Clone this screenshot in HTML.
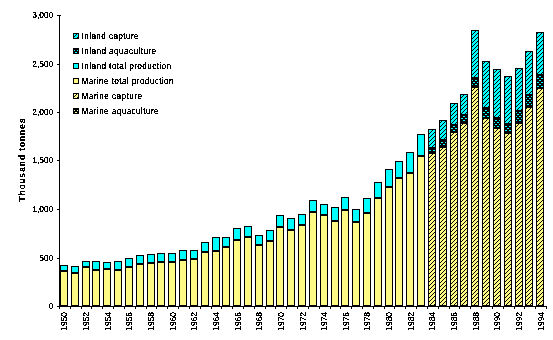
<!DOCTYPE html>
<html><head><meta charset="utf-8"><style>
html,body{margin:0;padding:0;background:#fff;width:553px;height:340px;overflow:hidden}
svg{display:block;will-change:transform}
.t{font-family:"Liberation Sans",sans-serif;font-size:8.4px;fill:#000}
.lg{font-family:"Liberation Sans",sans-serif;font-size:8.2px;fill:#000}
.ti{font-family:"Liberation Sans",sans-serif;font-size:8.3px;font-weight:bold;fill:#000}
</style></head><body>
<svg width="553" height="340" viewBox="0 0 553 340" shape-rendering="crispEdges">
<defs>
<filter id="th" x="0" y="0" width="553" height="340" filterUnits="userSpaceOnUse" color-interpolation-filters="sRGB"><feComponentTransfer><feFuncA type="discrete" tableValues="0 1 1"/></feComponentTransfer></filter>
<pattern id="hc" width="4" height="4" patternUnits="userSpaceOnUse">
<rect width="4" height="4" fill="#00FFFF"/><rect x="0" y="2" width="1" height="1" fill="#000"/><rect x="1" y="1" width="1" height="1" fill="#000"/><rect x="2" y="0" width="1" height="1" fill="#000"/><rect x="3" y="3" width="1" height="1" fill="#000"/>
</pattern>
<pattern id="hy" width="4" height="4" patternUnits="userSpaceOnUse">
<rect width="4" height="4" fill="#FFFA84"/><rect x="0" y="2" width="1" height="1" fill="#000"/><rect x="1" y="1" width="1" height="1" fill="#000"/><rect x="2" y="0" width="1" height="1" fill="#000"/><rect x="3" y="3" width="1" height="1" fill="#000"/>
</pattern>
<pattern id="dc" width="4" height="4" patternUnits="userSpaceOnUse">
<rect width="4" height="4" fill="#000"/><rect x="3" y="0" width="2" height="1" fill="#00FFFF"/><rect x="0" y="0" width="1" height="1" fill="#00FFFF"/><rect x="1" y="2" width="2" height="1" fill="#00FFFF"/>
</pattern>
<pattern id="dy" width="4" height="4" patternUnits="userSpaceOnUse">
<rect width="4" height="4" fill="#000"/><rect x="3" y="0" width="2" height="1" fill="#FFFA84"/><rect x="0" y="0" width="1" height="1" fill="#FFFA84"/><rect x="1" y="2" width="2" height="1" fill="#FFFA84"/>
</pattern>
</defs>
<rect x="60" y="265" width="8" height="41" fill="#000"/>
<rect x="61" y="266" width="6" height="4" fill="#00FFFF"/>
<rect x="61" y="272" width="6" height="33" fill="#FFFA84"/>
<rect x="71" y="266" width="8" height="40" fill="#000"/>
<rect x="72" y="267" width="6" height="5" fill="#00FFFF"/>
<rect x="72" y="274" width="6" height="31" fill="#FFFA84"/>
<rect x="82" y="261" width="8" height="45" fill="#000"/>
<rect x="83" y="262" width="6" height="4" fill="#00FFFF"/>
<rect x="83" y="268" width="6" height="37" fill="#FFFA84"/>
<rect x="92" y="261" width="8" height="45" fill="#000"/>
<rect x="93" y="262" width="6" height="7" fill="#00FFFF"/>
<rect x="93" y="271" width="6" height="34" fill="#FFFA84"/>
<rect x="103" y="262" width="8" height="44" fill="#000"/>
<rect x="104" y="263" width="6" height="5" fill="#00FFFF"/>
<rect x="104" y="270" width="6" height="35" fill="#FFFA84"/>
<rect x="114" y="261" width="8" height="45" fill="#000"/>
<rect x="115" y="262" width="6" height="7" fill="#00FFFF"/>
<rect x="115" y="271" width="6" height="34" fill="#FFFA84"/>
<rect x="125" y="258" width="8" height="48" fill="#000"/>
<rect x="126" y="259" width="6" height="7" fill="#00FFFF"/>
<rect x="126" y="268" width="6" height="37" fill="#FFFA84"/>
<rect x="136" y="255" width="8" height="51" fill="#000"/>
<rect x="137" y="256" width="6" height="7" fill="#00FFFF"/>
<rect x="137" y="265" width="6" height="40" fill="#FFFA84"/>
<rect x="147" y="254" width="8" height="52" fill="#000"/>
<rect x="148" y="255" width="6" height="7" fill="#00FFFF"/>
<rect x="148" y="264" width="6" height="41" fill="#FFFA84"/>
<rect x="157" y="253" width="8" height="53" fill="#000"/>
<rect x="158" y="254" width="6" height="7" fill="#00FFFF"/>
<rect x="158" y="263" width="6" height="42" fill="#FFFA84"/>
<rect x="168" y="253" width="8" height="53" fill="#000"/>
<rect x="169" y="254" width="6" height="7" fill="#00FFFF"/>
<rect x="169" y="263" width="6" height="42" fill="#FFFA84"/>
<rect x="179" y="250" width="8" height="56" fill="#000"/>
<rect x="180" y="251" width="6" height="8" fill="#00FFFF"/>
<rect x="180" y="261" width="6" height="44" fill="#FFFA84"/>
<rect x="190" y="250" width="8" height="56" fill="#000"/>
<rect x="191" y="251" width="6" height="7" fill="#00FFFF"/>
<rect x="191" y="260" width="6" height="45" fill="#FFFA84"/>
<rect x="201" y="242" width="8" height="64" fill="#000"/>
<rect x="202" y="243" width="6" height="8" fill="#00FFFF"/>
<rect x="202" y="253" width="6" height="52" fill="#FFFA84"/>
<rect x="212" y="237" width="8" height="69" fill="#000"/>
<rect x="213" y="238" width="6" height="12" fill="#00FFFF"/>
<rect x="213" y="252" width="6" height="53" fill="#FFFA84"/>
<rect x="222" y="237" width="8" height="69" fill="#000"/>
<rect x="223" y="238" width="6" height="8" fill="#00FFFF"/>
<rect x="223" y="248" width="6" height="57" fill="#FFFA84"/>
<rect x="233" y="228" width="8" height="78" fill="#000"/>
<rect x="234" y="229" width="6" height="10" fill="#00FFFF"/>
<rect x="234" y="241" width="6" height="64" fill="#FFFA84"/>
<rect x="244" y="226" width="8" height="80" fill="#000"/>
<rect x="245" y="227" width="6" height="9" fill="#00FFFF"/>
<rect x="245" y="238" width="6" height="67" fill="#FFFA84"/>
<rect x="255" y="235" width="8" height="71" fill="#000"/>
<rect x="256" y="236" width="6" height="8" fill="#00FFFF"/>
<rect x="256" y="246" width="6" height="59" fill="#FFFA84"/>
<rect x="266" y="230" width="8" height="76" fill="#000"/>
<rect x="267" y="231" width="6" height="9" fill="#00FFFF"/>
<rect x="267" y="242" width="6" height="63" fill="#FFFA84"/>
<rect x="276" y="215" width="8" height="91" fill="#000"/>
<rect x="277" y="216" width="6" height="10" fill="#00FFFF"/>
<rect x="277" y="228" width="6" height="77" fill="#FFFA84"/>
<rect x="287" y="218" width="8" height="88" fill="#000"/>
<rect x="288" y="219" width="6" height="10" fill="#00FFFF"/>
<rect x="288" y="231" width="6" height="74" fill="#FFFA84"/>
<rect x="298" y="214" width="8" height="92" fill="#000"/>
<rect x="299" y="215" width="6" height="9" fill="#00FFFF"/>
<rect x="299" y="226" width="6" height="79" fill="#FFFA84"/>
<rect x="309" y="200" width="8" height="106" fill="#000"/>
<rect x="310" y="201" width="6" height="10" fill="#00FFFF"/>
<rect x="310" y="213" width="6" height="92" fill="#FFFA84"/>
<rect x="320" y="204" width="8" height="102" fill="#000"/>
<rect x="321" y="205" width="6" height="9" fill="#00FFFF"/>
<rect x="321" y="216" width="6" height="89" fill="#FFFA84"/>
<rect x="331" y="207" width="8" height="99" fill="#000"/>
<rect x="332" y="208" width="6" height="12" fill="#00FFFF"/>
<rect x="332" y="222" width="6" height="83" fill="#FFFA84"/>
<rect x="341" y="197" width="8" height="109" fill="#000"/>
<rect x="342" y="198" width="6" height="11" fill="#00FFFF"/>
<rect x="342" y="211" width="6" height="94" fill="#FFFA84"/>
<rect x="352" y="209" width="8" height="97" fill="#000"/>
<rect x="353" y="210" width="6" height="11" fill="#00FFFF"/>
<rect x="353" y="223" width="6" height="82" fill="#FFFA84"/>
<rect x="363" y="198" width="8" height="108" fill="#000"/>
<rect x="364" y="199" width="6" height="13" fill="#00FFFF"/>
<rect x="364" y="214" width="6" height="91" fill="#FFFA84"/>
<rect x="374" y="182" width="8" height="124" fill="#000"/>
<rect x="375" y="183" width="6" height="14" fill="#00FFFF"/>
<rect x="375" y="199" width="6" height="106" fill="#FFFA84"/>
<rect x="385" y="169" width="8" height="137" fill="#000"/>
<rect x="386" y="170" width="6" height="16" fill="#00FFFF"/>
<rect x="386" y="188" width="6" height="117" fill="#FFFA84"/>
<rect x="395" y="161" width="8" height="145" fill="#000"/>
<rect x="396" y="162" width="6" height="15" fill="#00FFFF"/>
<rect x="396" y="179" width="6" height="126" fill="#FFFA84"/>
<rect x="406" y="152" width="8" height="154" fill="#000"/>
<rect x="407" y="153" width="6" height="19" fill="#00FFFF"/>
<rect x="407" y="174" width="6" height="131" fill="#FFFA84"/>
<rect x="417" y="134" width="8" height="172" fill="#000"/>
<rect x="418" y="135" width="6" height="20" fill="#00FFFF"/>
<rect x="418" y="157" width="6" height="148" fill="#FFFA84"/>
<rect x="428" y="129" width="8" height="177" fill="#000"/>
<rect x="429" y="130" width="6" height="17" fill="url(#hc)"/>
<rect x="429" y="149" width="6" height="3" fill="url(#dc)"/>
<rect x="429" y="154" width="6" height="151" fill="url(#hy)"/>
<rect x="439" y="120" width="8" height="186" fill="#000"/>
<rect x="440" y="121" width="6" height="18" fill="url(#hc)"/>
<rect x="440" y="141" width="6" height="5" fill="url(#dc)"/>
<rect x="440" y="148" width="6" height="157" fill="url(#hy)"/>
<rect x="450" y="103" width="8" height="203" fill="#000"/>
<rect x="451" y="104" width="6" height="20" fill="url(#hc)"/>
<rect x="451" y="126" width="6" height="5" fill="url(#dc)"/>
<rect x="451" y="133" width="6" height="172" fill="url(#hy)"/>
<rect x="460" y="94" width="8" height="212" fill="#000"/>
<rect x="461" y="95" width="6" height="19" fill="url(#hc)"/>
<rect x="461" y="116" width="6" height="6" fill="url(#dc)"/>
<rect x="461" y="124" width="6" height="181" fill="url(#hy)"/>
<rect x="471" y="30" width="8" height="276" fill="#000"/>
<rect x="472" y="31" width="6" height="46" fill="url(#hc)"/>
<rect x="472" y="79" width="6" height="7" fill="url(#dc)"/>
<rect x="472" y="88" width="6" height="217" fill="url(#hy)"/>
<rect x="482" y="61" width="8" height="245" fill="#000"/>
<rect x="483" y="62" width="6" height="45" fill="url(#hc)"/>
<rect x="483" y="109" width="6" height="8" fill="url(#dc)"/>
<rect x="483" y="119" width="6" height="186" fill="url(#hy)"/>
<rect x="493" y="69" width="8" height="237" fill="#000"/>
<rect x="494" y="70" width="6" height="47" fill="url(#hc)"/>
<rect x="494" y="119" width="6" height="8" fill="url(#dc)"/>
<rect x="494" y="129" width="6" height="176" fill="url(#hy)"/>
<rect x="504" y="76" width="8" height="230" fill="#000"/>
<rect x="505" y="77" width="6" height="46" fill="url(#hc)"/>
<rect x="505" y="125" width="6" height="7" fill="url(#dc)"/>
<rect x="505" y="134" width="6" height="171" fill="url(#hy)"/>
<rect x="515" y="68" width="8" height="238" fill="#000"/>
<rect x="516" y="69" width="6" height="41" fill="url(#hc)"/>
<rect x="516" y="112" width="6" height="10" fill="url(#dc)"/>
<rect x="516" y="124" width="6" height="181" fill="url(#hy)"/>
<rect x="525" y="51" width="8" height="255" fill="#000"/>
<rect x="526" y="52" width="6" height="42" fill="url(#hc)"/>
<rect x="526" y="96" width="6" height="10" fill="url(#dc)"/>
<rect x="526" y="108" width="6" height="197" fill="url(#hy)"/>
<rect x="536" y="32" width="8" height="274" fill="#000"/>
<rect x="537" y="33" width="6" height="41" fill="url(#hc)"/>
<rect x="537" y="76" width="6" height="11" fill="url(#dc)"/>
<rect x="537" y="89" width="6" height="216" fill="url(#hy)"/>
<rect x="59" y="15" width="1" height="292" fill="#000"/>
<rect x="59" y="306" width="488" height="1" fill="#000"/>
<rect x="57" y="306" width="2" height="1" fill="#000"/>
<rect x="57" y="258" width="2" height="1" fill="#000"/>
<rect x="57" y="209" width="2" height="1" fill="#000"/>
<rect x="57" y="160" width="2" height="1" fill="#000"/>
<rect x="57" y="112" width="2" height="1" fill="#000"/>
<rect x="57" y="64" width="2" height="1" fill="#000"/>
<rect x="57" y="15" width="2" height="1" fill="#000"/>
<rect x="59" y="307" width="1" height="2" fill="#000"/>
<rect x="70" y="307" width="1" height="2" fill="#000"/>
<rect x="81" y="307" width="1" height="2" fill="#000"/>
<rect x="91" y="307" width="1" height="2" fill="#000"/>
<rect x="102" y="307" width="1" height="2" fill="#000"/>
<rect x="113" y="307" width="1" height="2" fill="#000"/>
<rect x="124" y="307" width="1" height="2" fill="#000"/>
<rect x="135" y="307" width="1" height="2" fill="#000"/>
<rect x="146" y="307" width="1" height="2" fill="#000"/>
<rect x="156" y="307" width="1" height="2" fill="#000"/>
<rect x="167" y="307" width="1" height="2" fill="#000"/>
<rect x="178" y="307" width="1" height="2" fill="#000"/>
<rect x="189" y="307" width="1" height="2" fill="#000"/>
<rect x="200" y="307" width="1" height="2" fill="#000"/>
<rect x="211" y="307" width="1" height="2" fill="#000"/>
<rect x="221" y="307" width="1" height="2" fill="#000"/>
<rect x="232" y="307" width="1" height="2" fill="#000"/>
<rect x="243" y="307" width="1" height="2" fill="#000"/>
<rect x="254" y="307" width="1" height="2" fill="#000"/>
<rect x="265" y="307" width="1" height="2" fill="#000"/>
<rect x="275" y="307" width="1" height="2" fill="#000"/>
<rect x="286" y="307" width="1" height="2" fill="#000"/>
<rect x="297" y="307" width="1" height="2" fill="#000"/>
<rect x="308" y="307" width="1" height="2" fill="#000"/>
<rect x="319" y="307" width="1" height="2" fill="#000"/>
<rect x="330" y="307" width="1" height="2" fill="#000"/>
<rect x="340" y="307" width="1" height="2" fill="#000"/>
<rect x="351" y="307" width="1" height="2" fill="#000"/>
<rect x="362" y="307" width="1" height="2" fill="#000"/>
<rect x="373" y="307" width="1" height="2" fill="#000"/>
<rect x="384" y="307" width="1" height="2" fill="#000"/>
<rect x="394" y="307" width="1" height="2" fill="#000"/>
<rect x="405" y="307" width="1" height="2" fill="#000"/>
<rect x="416" y="307" width="1" height="2" fill="#000"/>
<rect x="427" y="307" width="1" height="2" fill="#000"/>
<rect x="438" y="307" width="1" height="2" fill="#000"/>
<rect x="449" y="307" width="1" height="2" fill="#000"/>
<rect x="459" y="307" width="1" height="2" fill="#000"/>
<rect x="470" y="307" width="1" height="2" fill="#000"/>
<rect x="481" y="307" width="1" height="2" fill="#000"/>
<rect x="492" y="307" width="1" height="2" fill="#000"/>
<rect x="503" y="307" width="1" height="2" fill="#000"/>
<rect x="514" y="307" width="1" height="2" fill="#000"/>
<rect x="524" y="307" width="1" height="2" fill="#000"/>
<rect x="535" y="307" width="1" height="2" fill="#000"/>
<rect x="546" y="307" width="1" height="2" fill="#000"/>
<rect x="57" y="15" width="4" height="1" fill="#000"/>
<rect x="73" y="33" width="6" height="6" fill="#000"/><rect x="74" y="34" width="4" height="4" fill="url(#hc)"/>
<rect x="73" y="48" width="6" height="6" fill="#000"/><rect x="74" y="49" width="4" height="4" fill="url(#dc)"/>
<rect x="73" y="63" width="6" height="6" fill="#000"/><rect x="74" y="64" width="4" height="4" fill="#00FFFF"/>
<rect x="73" y="78" width="6" height="6" fill="#000"/><rect x="74" y="79" width="4" height="4" fill="#FFFA84"/>
<rect x="73" y="93" width="6" height="6" fill="#000"/><rect x="74" y="94" width="4" height="4" fill="url(#hy)"/>
<rect x="73" y="108" width="6" height="6" fill="#000"/><rect x="74" y="109" width="4" height="4" fill="url(#dy)"/>
<g filter="url(#th)">
<text x="53.3" y="309" text-anchor="end" class="t">0</text>
<text x="53.3" y="261" text-anchor="end" class="t">500</text>
<text x="53.3" y="212" text-anchor="end" class="t">1,000</text>
<text x="53.3" y="163" text-anchor="end" class="t">1,500</text>
<text x="53.3" y="115" text-anchor="end" class="t">2,000</text>
<text x="53.3" y="67" text-anchor="end" class="t">2,500</text>
<text x="53.3" y="18" text-anchor="end" class="t">3,000</text>
<text transform="translate(67.4,312) rotate(-90)" text-anchor="end" class="t">1950</text>
<text transform="translate(89.1,312) rotate(-90)" text-anchor="end" class="t">1952</text>
<text transform="translate(110.7,312) rotate(-90)" text-anchor="end" class="t">1954</text>
<text transform="translate(132.3,312) rotate(-90)" text-anchor="end" class="t">1956</text>
<text transform="translate(154.0,312) rotate(-90)" text-anchor="end" class="t">1958</text>
<text transform="translate(175.6,312) rotate(-90)" text-anchor="end" class="t">1960</text>
<text transform="translate(197.3,312) rotate(-90)" text-anchor="end" class="t">1962</text>
<text transform="translate(218.9,312) rotate(-90)" text-anchor="end" class="t">1964</text>
<text transform="translate(240.6,312) rotate(-90)" text-anchor="end" class="t">1966</text>
<text transform="translate(262.2,312) rotate(-90)" text-anchor="end" class="t">1968</text>
<text transform="translate(283.9,312) rotate(-90)" text-anchor="end" class="t">1970</text>
<text transform="translate(305.5,312) rotate(-90)" text-anchor="end" class="t">1972</text>
<text transform="translate(327.1,312) rotate(-90)" text-anchor="end" class="t">1974</text>
<text transform="translate(348.8,312) rotate(-90)" text-anchor="end" class="t">1976</text>
<text transform="translate(370.4,312) rotate(-90)" text-anchor="end" class="t">1978</text>
<text transform="translate(392.1,312) rotate(-90)" text-anchor="end" class="t">1980</text>
<text transform="translate(413.7,312) rotate(-90)" text-anchor="end" class="t">1982</text>
<text transform="translate(435.4,312) rotate(-90)" text-anchor="end" class="t">1984</text>
<text transform="translate(457.0,312) rotate(-90)" text-anchor="end" class="t">1986</text>
<text transform="translate(478.7,312) rotate(-90)" text-anchor="end" class="t">1988</text>
<text transform="translate(500.3,312) rotate(-90)" text-anchor="end" class="t">1990</text>
<text transform="translate(521.9,312) rotate(-90)" text-anchor="end" class="t">1992</text>
<text transform="translate(543.6,312) rotate(-90)" text-anchor="end" class="t">1994</text>
<text x="81.6" y="39" class="lg" textLength="57" lengthAdjust="spacing">Inland capture</text>
<text x="81.6" y="54" class="lg" textLength="74.5" lengthAdjust="spacing">Inland aquaculture</text>
<text x="81.6" y="69" class="lg" textLength="89.5" lengthAdjust="spacing">Inland total production</text>
<text x="81.6" y="84" class="lg" textLength="92" lengthAdjust="spacing">Marine total production</text>
<text x="81.6" y="99" class="lg" textLength="60.5" lengthAdjust="spacing">Marine capture</text>
<text x="81.6" y="114" class="lg" textLength="77" lengthAdjust="spacing">Marine aquaculture</text>
<text transform="translate(24.5,201.6) rotate(-90)" class="ti" textLength="83" lengthAdjust="spacing">Thousand tonnes</text>
</g>
</svg>
</body></html>
